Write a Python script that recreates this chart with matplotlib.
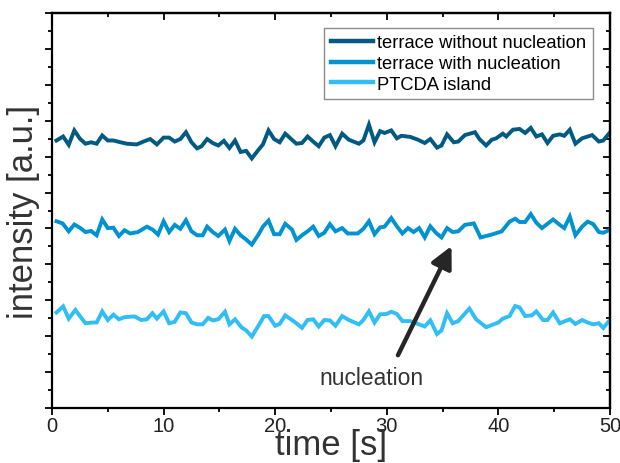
import matplotlib
matplotlib.use("Agg")
import matplotlib.pyplot as plt
from matplotlib.ticker import MultipleLocator, NullFormatter

plt.rcParams['font.family'] = ['Liberation Sans', 'DejaVu Sans']

# ---- data ----
t_dark = [0.4, 1.0, 1.5, 2.0, 2.5, 3.0, 3.5, 4.0, 4.5, 5.0, 5.5, 6.0, 6.7, 7.6, 8.2, 8.8,
          9.4, 10.0, 10.5, 11.0, 11.5, 12.0, 12.5, 13.0, 13.4, 13.9, 14.4, 14.9, 15.4,
          15.9, 16.4, 16.9, 17.4, 17.9, 18.5, 18.9, 19.4, 19.9, 20.4, 20.9, 21.5, 21.9,
          22.4, 22.9, 23.4, 23.9, 24.4, 24.9, 25.4, 26.0, 26.6, 27.5, 27.9, 28.4, 28.9,
          29.4, 29.8, 30.4, 30.9, 31.3, 32.1, 32.8, 33.4, 33.9, 34.5, 34.9, 35.4, 36.0,
          36.4, 37.0, 37.9, 38.3, 38.9, 39.4, 39.8, 40.4, 40.7, 41.3, 41.9, 42.4, 42.9,
          43.4, 43.9, 44.4, 44.9, 45.5, 45.9, 46.4, 46.9, 47.5, 48.4, 49.0, 49.4, 49.9]
v_dark = [7.45, 7.56, 7.33, 7.73, 7.50, 7.36, 7.40, 7.36, 7.59, 7.45, 7.45, 7.41, 7.36, 7.34,
          7.42, 7.49, 7.34, 7.53, 7.53, 7.42, 7.49, 7.68, 7.40, 7.23, 7.29, 7.49, 7.38, 7.31,
          7.44, 7.24, 7.45, 7.13, 7.16, 6.95, 7.19, 7.34, 7.73, 7.49, 7.40, 7.64, 7.47, 7.36,
          7.38, 7.56, 7.42, 7.29, 7.53, 7.60, 7.29, 7.64, 7.47, 7.36, 7.45, 7.89, 7.40, 7.71,
          7.66, 7.73, 7.51, 7.58, 7.55, 7.47, 7.38, 7.49, 7.25, 7.31, 7.62, 7.40, 7.42, 7.60,
          7.68, 7.49, 7.31, 7.47, 7.51, 7.64, 7.56, 7.75, 7.77, 7.66, 7.80, 7.56, 7.62, 7.38,
          7.58, 7.62, 7.58, 7.75, 7.36, 7.51, 7.60, 7.42, 7.45, 7.64]

t_mid = [0.4, 0.95, 1.5, 2.0, 2.5, 3.0, 3.5, 4.0, 4.5, 5.0, 5.5, 6.0, 6.5, 7.0, 7.7, 8.5, 9.0,
         9.5, 10.0, 10.5, 11.0, 11.5, 12.0, 12.5, 13.0, 13.5, 13.9, 14.4, 14.9, 15.5, 15.9,
         16.4, 16.9, 17.4, 17.9, 18.5, 18.9, 19.4, 19.9, 20.4, 20.9, 21.5, 21.9, 22.4, 22.9,
         23.4, 23.9, 24.4, 24.9, 25.4, 26.0, 26.5, 27.4, 27.9, 28.4, 28.9, 29.4, 29.8, 30.4,
         30.9, 31.4, 31.9, 32.4, 32.9, 33.4, 33.9, 34.4, 34.9, 35.4, 35.9, 36.4, 37.0, 37.8,
         38.4, 39.4, 40.3, 41.0, 41.5, 41.9, 42.4, 42.9, 43.4, 43.9, 44.9, 45.5, 45.9, 46.4,
         46.9, 47.5, 48.0, 48.5, 49.0, 49.4, 49.9]
v_mid = [5.20, 5.14, 4.92, 5.11, 5.02, 4.90, 4.93, 4.81, 5.25, 5.01, 5.02, 4.79, 4.95, 4.86,
         4.90, 5.05, 4.97, 4.83, 5.20, 4.90, 5.10, 4.99, 5.23, 4.92, 4.81, 4.81, 5.05, 4.90,
         4.79, 4.97, 4.65, 4.99, 4.81, 4.69, 4.55, 4.83, 5.05, 5.22, 4.84, 4.84, 5.13, 4.97,
         4.68, 4.81, 4.92, 5.05, 4.79, 4.88, 5.12, 4.92, 5.01, 4.86, 4.86, 4.99, 5.20, 4.84,
         5.03, 5.05, 5.29, 5.06, 4.86, 5.01, 4.90, 5.01, 4.75, 5.06, 4.88, 4.75, 5.01, 4.90,
         4.92, 5.10, 5.14, 4.75, 4.83, 4.92, 5.19, 5.27, 5.18, 5.18, 5.40, 5.16, 5.01, 5.25,
         5.10, 5.01, 5.33, 4.81, 5.05, 5.19, 5.12, 4.90, 4.88, 4.95]

t_light = [0.4, 1.0, 1.5, 2.1, 2.6, 3.0, 3.6, 4.0, 4.5, 5.0, 5.5, 6.0, 6.5, 7.4, 8.0, 8.5,
           9.0, 9.4, 10.0, 10.5, 11.0, 11.5, 12.0, 12.5, 13.0, 13.5, 14.0, 14.4, 14.9, 15.5,
           15.9, 16.4, 17.0, 17.4, 17.9, 18.5, 19.0, 19.4, 20.0, 20.4, 20.9, 21.5, 21.9, 22.4,
           22.9, 23.4, 23.9, 24.4, 24.9, 25.4, 26.0, 26.6, 27.5, 27.9, 28.4, 28.9, 29.4, 30.0,
           30.4, 30.9, 31.4, 32.1, 32.8, 33.4, 33.9, 34.5, 34.9, 35.4, 35.9, 36.4, 37.4, 38.0,
           38.9, 39.4, 40.0, 40.4, 41.0, 41.5, 41.9, 42.4, 43.0, 43.4, 44.0, 44.4, 44.9, 45.5,
           46.4, 46.9, 47.5, 48.0, 48.5, 49.0, 49.4, 49.9]
v_light = [2.66, 2.83, 2.49, 2.73, 2.52, 2.36, 2.38, 2.38, 2.69, 2.45, 2.60, 2.47, 2.53, 2.55,
           2.45, 2.47, 2.64, 2.49, 2.69, 2.36, 2.40, 2.66, 2.64, 2.38, 2.33, 2.33, 2.51, 2.44,
           2.47, 2.68, 2.33, 2.47, 2.24, 2.16, 1.99, 2.29, 2.56, 2.56, 2.29, 2.34, 2.58, 2.45,
           2.36, 2.23, 2.45, 2.47, 2.27, 2.45, 2.44, 2.29, 2.56, 2.45, 2.33, 2.45, 2.69, 2.38,
           2.61, 2.62, 2.68, 2.62, 2.42, 2.42, 2.34, 2.27, 2.44, 2.06, 2.16, 2.64, 2.36, 2.42,
           2.77, 2.47, 2.25, 2.31, 2.38, 2.49, 2.56, 2.84, 2.80, 2.56, 2.58, 2.69, 2.45, 2.45,
           2.66, 2.36, 2.47, 2.34, 2.45, 2.38, 2.33, 2.36, 2.23, 2.42]

labels = ["terrace without nucleation", "terrace with nucleation", "PTCDA island"]
colors = ["#005A82", "#0093D0", "#30BEF5"]

fig = plt.figure(figsize=(6.2, 4.64), dpi=100)
ax = fig.add_axes([52/620, 1 - 409/464, (610 - 52)/620, (409 - 14)/464])

for t, v, lab, c in zip([t_dark, t_mid, t_light], [v_dark, v_mid, v_light], labels, colors):
    ax.plot(t, v, color=c, lw=2.8, label=lab, solid_joinstyle='miter')

ax.set_xlim(0, 50)
ax.set_ylim(0, 11)

ax.xaxis.set_major_locator(MultipleLocator(10))
ax.xaxis.set_minor_locator(MultipleLocator(5))
ax.yaxis.set_major_locator(MultipleLocator(1))
ax.yaxis.set_minor_locator(MultipleLocator(0.5))
ax.yaxis.set_major_formatter(NullFormatter())

ax.tick_params(which='both', direction='out', width=1.3, colors='black',
               labelcolor='#222222', labelsize=14.5)
ax.tick_params(which='major', length=5, pad=1)
ax.tick_params(which='minor', length=3)

for s in ax.spines.values():
    s.set_linewidth(1.6)

secx = ax.secondary_xaxis('top')
secx.xaxis.set_major_locator(MultipleLocator(10))
secx.xaxis.set_minor_locator(MultipleLocator(5))
secx.xaxis.set_major_formatter(NullFormatter())
secx.tick_params(which='both', direction='in', width=1.3)
secx.tick_params(which='major', length=5)
secx.tick_params(which='minor', length=3)
secx.spines['top'].set_linewidth(1.6)

secy = ax.secondary_yaxis('right')
secy.yaxis.set_major_locator(MultipleLocator(1))
secy.yaxis.set_minor_locator(MultipleLocator(0.5))
secy.yaxis.set_major_formatter(NullFormatter())
secy.tick_params(which='both', direction='in', width=1.3)
secy.tick_params(which='major', length=5)
secy.tick_params(which='minor', length=3)
secy.spines['right'].set_linewidth(1.6)

ax.set_xlabel("time [s]", fontsize=25, color='#333333')
ax.xaxis.set_label_coords(0.5, (409 - 462) / 395)
ax.xaxis.label.set_va('bottom')
ax.set_ylabel("intensity [a.u.]", fontsize=25, color='#333333', labelpad=2)

leg = ax.legend(loc='upper right', bbox_to_anchor=(0.9695, 0.962), fontsize=13.2,
                frameon=True, fancybox=False, edgecolor='#8c8c8c', framealpha=1,
                handlelength=2.3, handletextpad=0.25, labelspacing=0.2,
                borderpad=0.35, borderaxespad=0)
leg.get_frame().set_linewidth(1.0)
for line in leg.get_lines():
    line.set_linewidth(3.2)

ax.annotate("", xy=(35.8, 4.51), xytext=(31.0, 1.47),
            arrowprops=dict(arrowstyle='-|>,head_length=1.3,head_width=0.65',
                            color='#262626', lw=3.2, shrinkA=0, shrinkB=0))
ax.text(28.6, 0.86, "nucleation", fontsize=16.4, color='#333333', ha='center', va='center')

fig.savefig("out.png", dpi=100)
